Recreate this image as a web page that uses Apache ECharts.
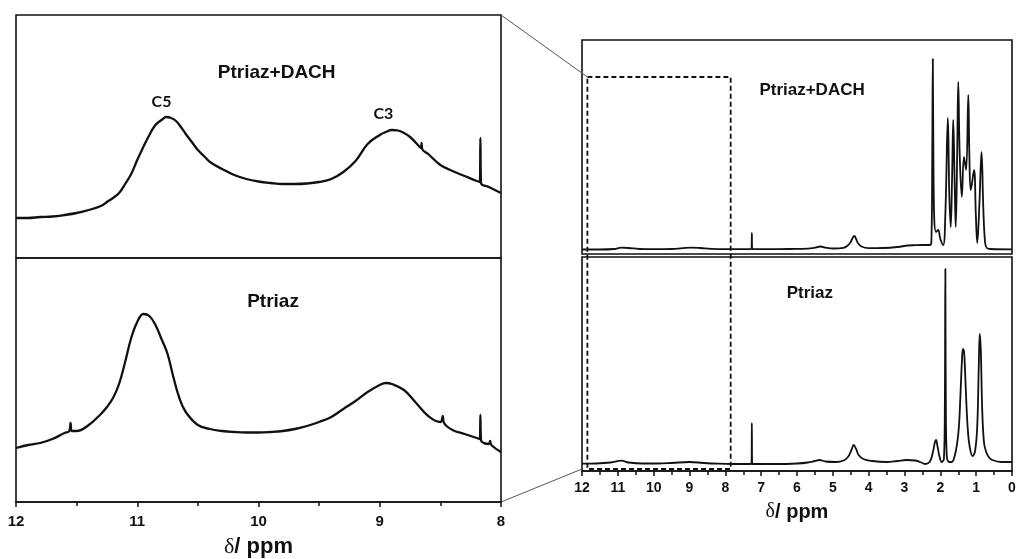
<!DOCTYPE html>
<html>
<head>
<meta charset="utf-8">
<script src="https://cdn.jsdelivr.net/npm/echarts@6/dist/echarts.min.js"></script>
<style>
  html, body { margin: 0; padding: 0; background: #fff; }
  #chart { width: 1016px; height: 559px; }
</style>
</head>
<body>
<div id="chart"></div>
<script>
// 1H NMR spectra, chemical shift (ppm) vs intensity (arbitrary units)

// Expanded region 12–8 ppm, Ptriaz+DACH
const dachZoom = [
  [12.0,40],[11.9,40],[11.8,41],[11.7,41.5],[11.6,43],[11.5,45],[11.4,48],[11.3,52],
  [11.25,56],[11.2,60],[11.15,65],[11.1,74],[11.05,84],[11.0,98],[10.95,111],[10.9,123],
  [10.85,133],[10.8,138],[10.76,141],[10.72,140],[10.68,137],[10.64,131],[10.6,124],
  [10.55,116],[10.5,108],[10.45,102],[10.4,96],[10.3,89],[10.2,83],[10.1,79],[10.0,76.5],
  [9.9,75],[9.8,74],[9.7,74],[9.6,74.5],[9.5,76],[9.4,79],[9.3,86],[9.2,97],[9.1,114],
  [9.0,123],[8.95,126],[8.9,128],[8.85,127.5],[8.8,125],[8.75,121],[8.7,115],[8.66,110],
  [8.655,115],[8.65,109],[8.6,104],[8.5,93],[8.4,87],[8.3,82],[8.2,77],[8.175,76],
  [8.17,120],[8.165,75],[8.1,71],[8.05,68],[8.0,65]
];

// Expanded region 12–8 ppm, Ptriaz
const ptriazZoom = [
  [12.0,54],[11.9,57],[11.8,59],[11.7,63],[11.6,69],[11.56,71],[11.55,79],[11.54,71],
  [11.5,71],[11.4,77],[11.3,88],[11.25,95],[11.2,104],[11.15,118],[11.1,140],[11.05,164],
  [11.0,180],[10.95,188],[10.9,186],[10.85,177],[10.8,163],[10.75,148],[10.7,124],
  [10.65,103],[10.6,90],[10.5,77],[10.4,73],[10.3,71],[10.2,70],[10.1,69.5],[10.0,69.5],
  [9.9,70],[9.8,71],[9.7,73],[9.6,76],[9.5,80],[9.4,85],[9.3,93],[9.2,101],[9.1,110],
  [9.0,117],[8.95,119],[8.9,118],[8.8,112],[8.7,99],[8.6,86],[8.5,80],[8.49,81],
  [8.48,86],[8.47,79],[8.4,72],[8.3,68],[8.2,64],[8.175,63],[8.17,87],[8.165,62],
  [8.1,58],[8.09,61],[8.08,57],[8.0,50]
];

// Full spectrum 12–0 ppm, Ptriaz+DACH
const dachFull = [
  [12.0,4.5],[11.5,4.5],[11.1,5],[10.9,6.3],[10.7,6],[10.4,5],[10.0,4.8],[9.5,5],[9.2,5.8],
  [8.95,6.4],[8.7,6],[8.4,5.2],[8.0,4.8],[7.6,4.8],[7.27,4.8],[7.26,21],[7.25,4.8],
  [6.8,4.8],[6.2,5],[5.7,5.4],[5.5,6.3],[5.35,7.5],[5.2,6.3],[5.0,5.5],[4.7,6.2],[4.6,8],
  [4.5,12],[4.45,16],[4.4,18],[4.35,15],[4.3,11],[4.2,7.5],[4.0,5.8],[3.6,6],[3.2,7],
  [2.9,8.5],[2.7,8.8],[2.5,9],[2.3,9],[2.25,12],[2.225,100],[2.21,195],[2.195,110],
  [2.17,35],[2.12,22],[2.06,24],[2.0,15],[1.92,9],[1.86,40],[1.79,136],[1.75,60],
  [1.71,27],[1.67,80],[1.64,134],[1.6,70],[1.57,27],[1.53,100],[1.50,172],[1.46,100],
  [1.40,57],[1.34,97],[1.28,84],[1.22,159],[1.19,100],[1.15,64],[1.06,84],[1.01,40],
  [0.97,11],[0.91,50],[0.85,102],[0.80,45],[0.75,11],[0.7,6],[0.6,5],[0.0,4.7]
];

// Full spectrum 12–0 ppm, Ptriaz
const ptriazFull = [
  [12.0,7.3],[11.6,7.5],[11.2,8.5],[10.9,10.3],[10.7,8.5],[10.3,7.5],[9.9,7.5],[9.5,8],
  [9.0,9],[8.6,8],[8.2,7.3],[7.8,7],[7.27,7],[7.26,48],[7.25,7],[6.6,7],[6.0,7.5],
  [5.7,8.5],[5.5,10],[5.38,11],[5.2,9.5],[4.9,9],[4.7,10.5],[4.58,14],[4.48,21],
  [4.42,26],[4.35,22],[4.28,16],[4.15,12],[3.9,10],[3.5,9],[3.2,10],[2.95,11],[2.7,10.5],
  [2.5,8],[2.43,7],[2.3,9],[2.22,17],[2.15,29],[2.12,31],[2.08,25],[2.02,14],[1.96,9],
  [1.9,12],[1.875,60],[1.86,202],[1.845,60],[1.82,15],[1.75,9],[1.68,9],[1.6,15],
  [1.53,28],[1.48,45],[1.44,75],[1.40,108],[1.37,122],[1.34,120],[1.31,100],[1.27,65],
  [1.23,40],[1.18,24],[1.1,15],[1.03,20],[0.97,45],[0.93,100],[0.9,137],[0.87,120],
  [0.83,60],[0.78,28],[0.72,19],[0.65,14],[0.55,11],[0.3,9],[0.0,9]
];

// Axis ranges (ppm) and the boxed region of the full spectra
const zoomRange = [8, 12];
const fullRange = [0, 12];
const boxedRange = [7.85, 11.85];

// Sample names and peak assignments
const sampleNames = ['Ptriaz+DACH', 'Ptriaz'];
const peakLabels = [
  { text: 'C5', ppm: 10.80, value: 156 },
  { text: 'C3', ppm: 8.97, value: 144 }
];

const SANS = '"Liberation Sans", Arial, sans-serif';
const chart = echarts.init(document.getElementById('chart'), null, { renderer: 'canvas' });

const grids = [
  { left: 16, top: 15, width: 485, height: 243 },
  { left: 16, top: 258, width: 485, height: 244 },
  { left: 582, top: 40, width: 430, height: 214 },
  { left: 582, top: 257, width: 430, height: 214 }
].map(g => Object.assign(g, {
  show: true, borderColor: '#111', borderWidth: 1.6,
  containLabel: false, outerBoundsMode: 'none'
}));

const yMax = [243, 244, 214, 214];

function axisName(size) {
  return {
    name: '{d|δ}{p|/ ppm}',
    nameLocation: 'middle',
    nameTextStyle: {
      rich: {
        d: { fontFamily: '"Liberation Serif", serif', fontSize: size, color: '#111' },
        p: { fontFamily: SANS, fontWeight: 'bold', fontSize: size, color: '#111' }
      }
    }
  };
}

function xAxis(i, range, labelled) {
  const wide = i < 2;
  const ax = {
    type: 'value', gridIndex: i, min: range[0], max: range[1], interval: 1, inverse: true,
    axisLine: { show: labelled, onZero: false, lineStyle: { color: '#111', width: 1.6 } },
    axisTick: { show: labelled, length: 5, lineStyle: { color: '#111', width: 1.5 } },
    minorTick: { show: labelled, splitNumber: 2, length: 4, lineStyle: { color: '#111', width: 1.5 } },
    axisLabel: {
      show: labelled, color: '#111', fontFamily: SANS, fontWeight: 'bold',
      fontSize: wide ? 15 : 14, margin: wide ? 12 : 10
    },
    splitLine: { show: false }
  };
  if (labelled) {
    Object.assign(ax, axisName(wide ? 22 : 20));
    ax.nameGap = wide ? 34 : 31;
  }
  return ax;
}

const xAxes = [
  xAxis(0, zoomRange, false),
  xAxis(1, zoomRange, true),
  xAxis(2, fullRange, false),
  xAxis(3, fullRange, true)
];

const yAxes = yMax.map((m, i) => ({
  type: 'value', gridIndex: i, min: 0, max: m, show: false
}));

function spectrum(i, data, width) {
  return {
    type: 'line', xAxisIndex: i, yAxisIndex: i, data: data,
    showSymbol: false, symbol: 'none', smooth: 0.4,
    lineStyle: { color: '#111', width: width, join: 'round' },
    silent: true
  };
}

chart.setOption({
  animation: false,
  backgroundColor: '#fff',
  grid: grids,
  xAxis: xAxes,
  yAxis: yAxes,
  series: [
    spectrum(0, dachZoom, 2.3),
    spectrum(1, ptriazZoom, 2.3),
    spectrum(2, dachFull, 1.8),
    spectrum(3, ptriazFull, 1.8)
  ]
});

// Annotations placed from data coordinates
function px(i, x, y) {
  return chart.convertToPixel({ xAxisIndex: i, yAxisIndex: i }, [x, y]);
}

const graphics = [];

function label(pos, text, font) {
  graphics.push({
    type: 'text', x: pos[0], y: pos[1], silent: true,
    style: { text: text, fill: '#111', font: font, align: 'center', verticalAlign: 'middle' }
  });
}

label(px(0, 9.85, 185), sampleNames[0], 'bold 19px ' + SANS);
label(px(1, 9.88, 200), sampleNames[1], 'bold 19px ' + SANS);
label(px(2, 5.58, 164), sampleNames[0], 'bold 17px ' + SANS);
label(px(3, 5.64, 178), sampleNames[1], 'bold 17px ' + SANS);
peakLabels.forEach(p => label(px(0, p.ppm, p.value), p.text, 'bold 16px Lato, sans-serif'));

// Dashed box over the 12–8 ppm region of the full spectra
const boxTL = px(2, boxedRange[1], 177);
const boxBR = px(3, boxedRange[0], 2);
graphics.push({
  type: 'rect', silent: true,
  shape: { x: boxTL[0], y: boxTL[1], width: boxBR[0] - boxTL[0], height: boxBR[1] - boxTL[1] },
  style: { fill: null, stroke: '#111', lineWidth: 1.8, lineDash: [5, 3] }
});

// Connectors from the expanded panels to the dashed box
const zoomTR = px(0, zoomRange[0], yMax[0]);
const zoomBR = px(1, zoomRange[0], 0);
const fullBL = px(3, fullRange[1], 2);
[[zoomTR, boxTL], [zoomBR, fullBL]].forEach(([a, b]) => {
  graphics.push({
    type: 'line', silent: true,
    shape: { x1: a[0], y1: a[1], x2: b[0], y2: b[1] },
    style: { stroke: '#555', lineWidth: 1 }
  });
});

chart.setOption({ graphic: graphics });
</script>
</body>
</html>
